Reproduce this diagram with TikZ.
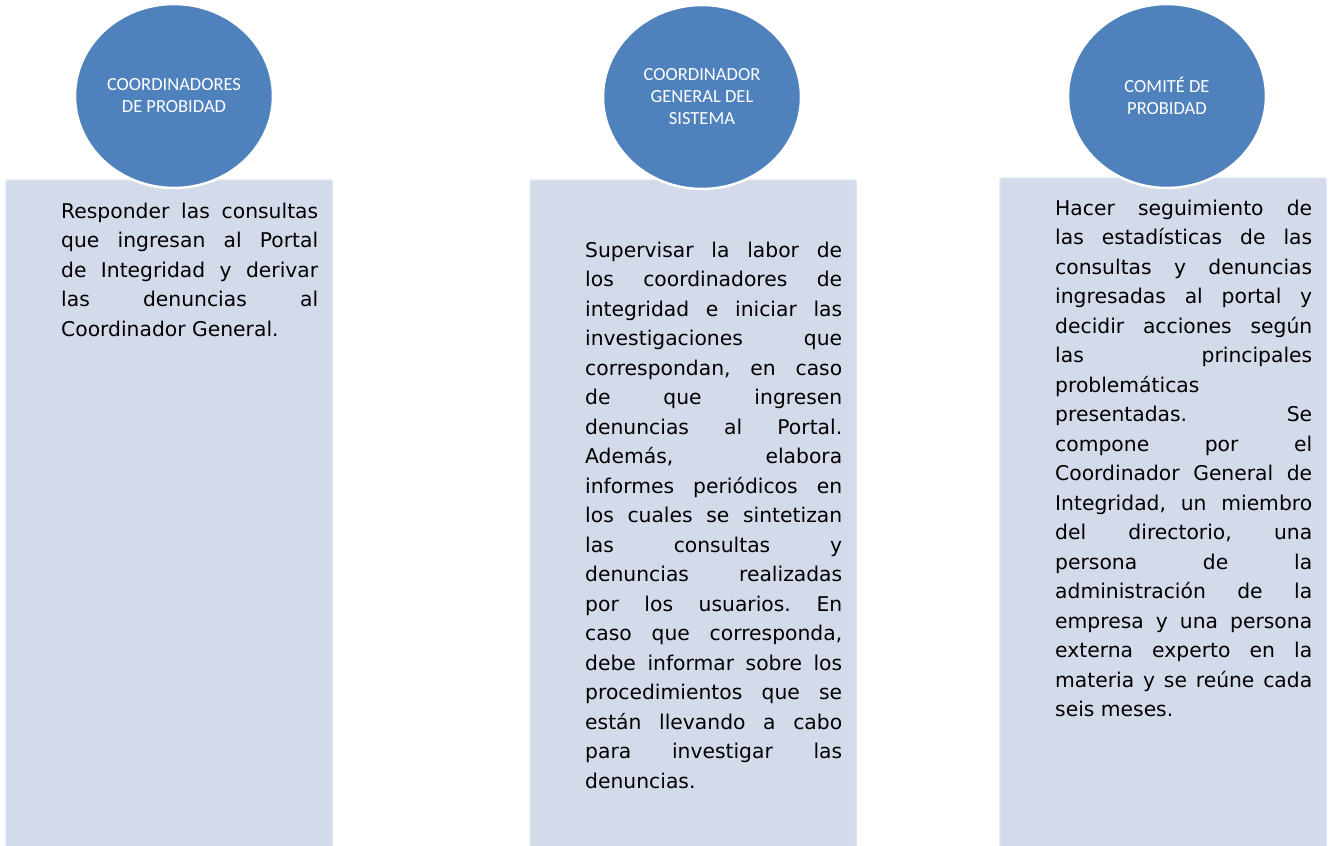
\documentclass[tikz,border=0pt]{standalone}
\usepackage{fontspec}
\setmainfont{DejaVu Sans}
\newfontfamily\circfont{Carlito}
\usetikzlibrary{shapes.geometric}
\definecolor{roleblue}{HTML}{4F81BD}
\definecolor{panelfill}{HTML}{D3DAEA}
\definecolor{paneledge}{HTML}{DDE2EF}
\tikzset{
  panel/.style={fill=panelfill, draw=paneledge, line width=1.5pt, rounded corners=2pt},
  role/.style={ellipse, fill=roleblue, draw=white, line width=2.5pt,
    minimum width=198pt, minimum height=184pt, inner sep=0pt,
    text=white, align=center, font=\circfont\fontsize{18.5}{22}\selectfont},
  duty/.style={anchor=base west, inner sep=0pt, text=black}
}
% one justified column of panel text, first baseline at the node
\newcommand\dutytext[1]{\parbox[t]{257pt}{\fontsize{20.3}{29.5}\selectfont
  \frenchspacing\tolerance=10000\hyphenpenalty=10000\exhyphenpenalty=10000 #1}}
\begin{document}
\begin{tikzpicture}[x=1pt,y=-1pt]
\clip (0,0) rectangle (1331,846);
\fill[white] (0,0) rectangle (1331,846);

% panels
\draw[panel] (6,180) rectangle (332,860);
\draw[panel] (530,180) rectangle (856,860);
\draw[panel] (1000,178) rectangle (1326,860);

% panel texts
\node[duty] (t1) at (61,218) {\dutytext{Responder las consultas\linebreak que ingresan al Portal\linebreak de Integridad y derivar\linebreak las denuncias al\linebreak Coordinador General.}};

\node[duty] (t2) at (585,257) {\dutytext{Supervisar la labor de\linebreak los coordinadores de\linebreak integridad e iniciar las\linebreak investigaciones que\linebreak correspondan, en caso\linebreak de que ingresen\linebreak denuncias al Portal.\linebreak Además, elabora\linebreak informes periódicos en\linebreak los cuales se sintetizan\linebreak las consultas y\linebreak denuncias realizadas\linebreak por los usuarios. En\linebreak caso que corresponda,\linebreak debe informar sobre los\linebreak procedimientos que se\linebreak están llevando a cabo\linebreak para investigar las\linebreak denuncias.}};

\node[duty] (t3) at (1055,215) {\dutytext{Hacer seguimiento de\linebreak las estadísticas de las\linebreak consultas y denuncias\linebreak ingresadas al portal y\linebreak decidir acciones según\linebreak las principales\linebreak problemáticas\linebreak presentadas. Se\linebreak compone por el\linebreak Coordinador General de\linebreak Integridad, un miembro\linebreak del directorio, una\linebreak persona de la\linebreak administración de la\linebreak empresa y una persona\linebreak externa experto en la\linebreak materia y se reúne cada\linebreak seis meses.}};

% role circles
\node[role] (c1) at (174,96) {COORDINADORES\\DE PROBIDAD};
\node[role] (c2) at (702,97) {COORDINADOR\\GENERAL DEL\\SISTEMA};
\node[role] (c3) at (1167,96) {COMITÉ DE\\PROBIDAD};
\end{tikzpicture}
\end{document}
